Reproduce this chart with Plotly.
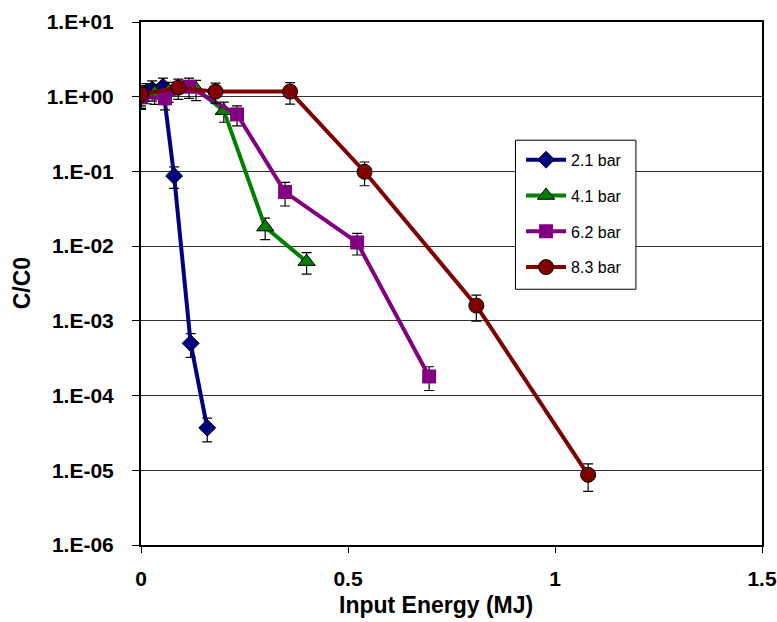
import plotly.graph_objects as go

# Input energy (MJ) and normalised concentration C/C0 for each pressure
energy_21 = [0, 0.013, 0.027, 0.053, 0.08, 0.12, 0.16]
conc_21 = [1.0, 1.15, 1.25, 1.36, 0.087, 5.0e-4, 3.7e-5]
err_21 = [0.30, 0.30, 0.30, 0.30, 0.32, 0.35, 0.35]

energy_41 = [0, 0.033, 0.067, 0.133, 0.2, 0.3, 0.4]
conc_41 = [0.97, 1.13, 1.2, 1.27, 0.65, 0.018, 0.0062]
err_41 = [0.30, 0.30, 0.30, 0.30, 0.30, 0.32, 0.32]

energy_62 = [0, 0.058, 0.116, 0.232, 0.348, 0.522, 0.696]
conc_62 = [1.0, 0.95, 1.36, 0.58, 0.053, 0.0112, 1.8e-4]
err_62 = [0.30, 0.30, 0.30, 0.30, 0.35, 0.32, 0.35]

energy_83 = [0, 0.09, 0.18, 0.36, 0.54, 0.81, 1.08]
conc_83 = [1.08, 1.32, 1.17, 1.17, 0.099, 1.6e-3, 8.7e-6]
err_83 = [0.30, 0.30, 0.30, 0.32, 0.35, 0.38, 0.40]

series_names = ["2.1 bar", "4.1 bar", "6.2 bar", "8.3 bar"]
colors = ["#000080", "#008000", "#800080", "#800000"]
symbols = ["diamond", "triangle-up", "square", "circle"]
sizes = [13, 15, 14, 15]
outline = [1, 1, 0, 1]

y_tickvals = [1e1, 1e0, 1e-1, 1e-2, 1e-3, 1e-4, 1e-5, 1e-6]
y_ticktext = ["1.E+01", "1.E+00", "1.E-01", "1.E-02", "1.E-03", "1.E-04", "1.E-05", "1.E-06"]
x_tickvals = [0, 0.5, 1, 1.5]
x_ticktext = ["0", "0.5", "1", "1.5"]

x_title = "Input Energy (MJ)"
y_title = "C/C0"

data = [
    (energy_21, conc_21, err_21),
    (energy_41, conc_41, err_41),
    (energy_62, conc_62, err_62),
    (energy_83, conc_83, err_83),
]

FONT = "Arial, Liberation Sans, sans-serif"
TICK_SIZE = 21
TITLE_SIZE = 23

fig = go.Figure()
for i, (xs, ys, rel) in enumerate(data):
    fig.add_trace(go.Scatter(
        x=xs,
        y=ys,
        mode="lines+markers",
        name=series_names[i],
        legendgroup=series_names[i],
        line=dict(color=colors[i], width=4),
        marker=dict(symbol=symbols[i], size=sizes[i], color=colors[i],
                    line=dict(color="black", width=outline[i])),
        error_y=dict(type="data", symmetric=True,
                     array=[v * r for v, r in zip(ys, rel)],
                     color="black", thickness=1.2, width=5),
    ))

# Legend frame: a white box with a black border, wider than the entries
fig.add_shape(
    type="rect", xref="paper", yref="paper",
    x0=0.603, x1=0.797, y0=0.489, y1=0.774,
    fillcolor="white", line=dict(color="black", width=1), layer="above",
)

title_font = dict(family=FONT, size=TITLE_SIZE, color="black", weight="bold")
fig.add_annotation(
    text=x_title, xref="paper", yref="paper", x=0.475, y=-0.115,
    xanchor="center", yanchor="middle", showarrow=False, font=title_font,
)
fig.add_annotation(
    text=y_title, xref="paper", yref="paper", x=-0.192, y=0.5,
    xanchor="center", yanchor="middle", textangle=-90, showarrow=False,
    font=title_font,
)

fig.update_layout(
    width=777,
    height=622,
    margin=dict(l=141, r=15, t=22, b=77, autoexpand=False),
    paper_bgcolor="white",
    plot_bgcolor="white",
    font=dict(family=FONT, color="black"),
    legend=dict(
        x=0.612, y=0.769, xanchor="left", yanchor="top",
        bgcolor="rgba(0,0,0,0)", borderwidth=0,
        font=dict(family=FONT, size=16, color="black"),
        tracegroupgap=12, itemwidth=40,
    ),
)

fig.update_xaxes(
    range=[0, 1.5], automargin=False,
    tickvals=x_tickvals, ticktext=x_ticktext,
    ticks="outside", ticklen=6, tickcolor="black", tickwidth=1,
    tickfont=dict(family=FONT, size=TICK_SIZE, color="black", weight="bold"),
    ticklabelstandoff=8,
    showgrid=False, zeroline=False,
    showline=True, linecolor="black", linewidth=2, mirror=True,
)

fig.update_yaxes(
    type="log", range=[-6, 1], automargin=False,
    tickvals=y_tickvals, ticktext=y_ticktext,
    ticks="outside", ticklen=7, tickcolor="black", tickwidth=1,
    tickfont=dict(family=FONT, size=TICK_SIZE, color="black", weight="bold"),
    ticklabelstandoff=14,
    showgrid=True, gridcolor="#333333", gridwidth=1,
    zeroline=False,
    showline=True, linecolor="black", linewidth=2, mirror=True,
)

fig.write_html("out.html")
